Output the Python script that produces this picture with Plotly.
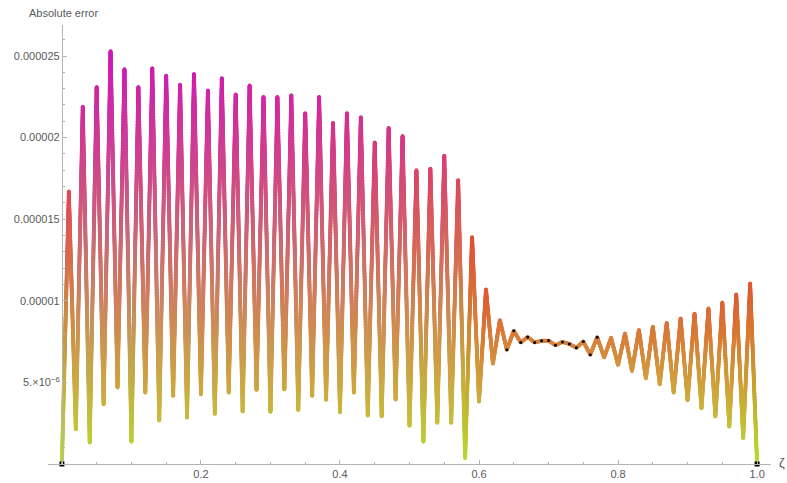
import numpy as np
import plotly.graph_objects as go

# ---- data ----
zeta = [0.00, 0.01, 0.02, 0.03, 0.04, 0.05, 0.06, 0.07, 0.08, 0.09,
        0.10, 0.11, 0.12, 0.13, 0.14, 0.15, 0.16, 0.17, 0.18, 0.19,
        0.20, 0.21, 0.22, 0.23, 0.24, 0.25, 0.26, 0.27, 0.28, 0.29,
        0.30, 0.31, 0.32, 0.33, 0.34, 0.35, 0.36, 0.37, 0.38, 0.39,
        0.40, 0.41, 0.42, 0.43, 0.44, 0.45, 0.46, 0.47, 0.48, 0.49,
        0.50, 0.51, 0.52, 0.53, 0.54, 0.55, 0.56, 0.57, 0.58, 0.59,
        0.60, 0.61, 0.62, 0.63, 0.64, 0.65, 0.66, 0.67, 0.68, 0.69,
        0.70, 0.71, 0.72, 0.73, 0.74, 0.75, 0.76, 0.77, 0.78, 0.79,
        0.80, 0.81, 0.82, 0.83, 0.84, 0.85, 0.86, 0.87, 0.88, 0.89,
        0.90, 0.91, 0.92, 0.93, 0.94, 0.95, 0.96, 0.97, 0.98, 0.99,
        1.00]

# absolute error in units of 1e-6
err_micro = [0.00, 16.7, 2.13, 21.9, 1.31, 23.1, 3.66, 25.3, 4.68, 24.2,
             1.36, 23.1, 4.37, 24.25, 2.66, 23.8, 4.17, 23.25, 2.84, 23.9,
             4.27, 22.9, 3.07, 23.65, 4.37, 22.65, 3.21, 23.2, 4.54, 22.5,
             3.19, 22.5, 4.57, 22.6, 3.31, 21.5, 4.17, 22.5, 3.93, 20.9,
             3.17, 21.5, 4.37, 21.25, 2.97, 19.7, 2.92, 20.6, 3.94, 20.1,
             2.34, 18.0, 1.36, 18.1, 2.52, 18.9, 2.52, 17.4, 0.36, 13.9,
             3.82, 10.7, 6.15, 8.82, 7.00, 8.16, 7.45, 7.78, 7.45, 7.55,
             7.56, 7.28, 7.48, 7.36, 7.12, 7.51, 6.70, 7.77, 6.53, 7.74,
             6.07, 8.00, 5.70, 8.21, 5.25, 8.41, 4.88, 8.65, 4.37, 8.92,
             3.90, 9.22, 3.41, 9.53, 2.91, 9.90, 2.29, 10.39, 1.58, 11.06,
             0.00]

y_tick_vals = [5e-6, 1e-5, 1.5e-5, 2e-5, 2.5e-5]
y_tick_text = ["5.\u00d710<sup>\u22126</sup>", "0.00001", "0.000015", "0.00002", "0.000025"]
x_tick_vals = [0.2, 0.4, 0.6, 0.8, 1.0]
x_tick_text = ["0.2", "0.4", "0.6", "0.8", "1.0"]

# indices where vertex dots are visible
dot_idx = list(range(64, 78))
end_idx = [0, 100]

# ---- styling ----
stops = [(0.00, (182, 220, 46)), (0.10, (200, 190, 60)), (0.20, (208, 160, 62)),
         (0.30, (216, 128, 60)), (0.42, (224, 88, 50)), (0.55, (226, 78, 58)),
         (0.68, (222, 72, 92)), (0.85, (212, 45, 150)), (1.00, (204, 22, 188))]


def cmap(t):
    t = min(max(t, 0.0), 1.0)
    for (a, ca), (b, cb) in zip(stops[:-1], stops[1:]):
        if t <= b:
            f = (t - a) / (b - a)
            return np.array([ca[k] + f * (cb[k] - ca[k]) for k in range(3)])
    return np.array(stops[-1][1], dtype=float)


x = np.array(zeta)
y = np.array(err_micro) * 1e-6
ymax = y.max()
vcol = [cmap(v / ymax) for v in y]

# pixel scales (for sampling density of the colour gradient)
XR = [-0.02, 1.02]
YR = [0, 26.9e-6]
W, H = 787, 483
ML, MR, MT, MB = 48, 16, 25, 19
pxx = (W - ML - MR) / (XR[1] - XR[0])
pxy = (H - MT - MB) / (YR[1] - YR[0])

gx, gy, gc = [], [], []
for i in range(len(x) - 1):
    L = np.hypot((x[i + 1] - x[i]) * pxx, (y[i + 1] - y[i]) * pxy)
    n = max(2, int(L / 0.6) + 1)
    s = np.linspace(0, 1, n)
    if i < len(x) - 2:
        s = s[:-1]
    for f in s:
        gx.append(x[i] + f * (x[i + 1] - x[i]))
        gy.append(y[i] + f * (y[i + 1] - y[i]))
        c = vcol[i] + f * (vcol[i + 1] - vcol[i])
        gc.append("rgb(%d,%d,%d)" % tuple(np.round(c).astype(int)))

fig = go.Figure()
fig.add_trace(go.Scatter(x=x, y=y, mode="lines",
                         line=dict(color="rgb(216,128,60)", width=1.5),
                         hoverinfo="skip"))
fig.add_trace(go.Scatter(x=gx, y=gy, mode="markers",
                         marker=dict(size=3.8, color=gc, line=dict(width=0)),
                         hoverinfo="skip"))
fig.add_trace(go.Scatter(x=[x[i] for i in dot_idx], y=[y[i] for i in dot_idx],
                         mode="markers", marker=dict(size=3, color="black"),
                         hoverinfo="skip"))
fig.add_trace(go.Scatter(x=[x[i] for i in end_idx], y=[y[i] for i in end_idx],
                         mode="markers",
                         marker=dict(size=5, symbol="square", color="black", line=dict(width=0)),
                         hoverinfo="skip", cliponaxis=False))

axis_col = "#b4b4b4"
fig.update_layout(
    width=W, height=H,
    margin=dict(l=ML, r=MR, t=MT, b=MB),
    plot_bgcolor="white", paper_bgcolor="white",
    showlegend=False,
    font=dict(family="Liberation Sans, Arial, sans-serif", size=11, color="#5a5a5a"),
    xaxis=dict(range=XR, showgrid=False, zeroline=False, showline=True,
               linecolor=axis_col, linewidth=1, ticks="inside", ticklen=4,
               tickcolor=axis_col, tickmode="array", tickvals=x_tick_vals,
               ticktext=x_tick_text, automargin=False,
               minor=dict(ticks="inside", ticklen=2.5, tickmode="linear", tick0=0,
                          dtick=0.05, tickcolor=axis_col, showgrid=False)),
    yaxis=dict(range=YR, showgrid=False, zeroline=False, showline=True,
               linecolor=axis_col, linewidth=1, ticks="inside", ticklen=4,
               tickcolor=axis_col, tickmode="array", tickvals=y_tick_vals,
               ticktext=y_tick_text, anchor="free",
               position=(0 - XR[0]) / (XR[1] - XR[0]), automargin=False,
               minor=dict(ticks="inside", ticklen=2.5, tickmode="linear", tick0=0,
                          dtick=1e-6, tickcolor=axis_col, showgrid=False)),
    annotations=[
        dict(text="Absolute error", xref="paper", yref="paper",
             x=(27 - ML) / (W - ML - MR), y=1 + (MT - 13) / (H - MT - MB),
             xanchor="left", yanchor="middle", showarrow=False,
             font=dict(size=11, color="#5a5a5a")),
        dict(text="\u03b6", xref="paper", yref="paper",
             x=(782 - ML) / (W - ML - MR), y=0.004,
             xanchor="center", yanchor="middle", showarrow=False,
             font=dict(size=13, color="#5a5a5a")),
    ],
)

fig.write_html("out.html")
